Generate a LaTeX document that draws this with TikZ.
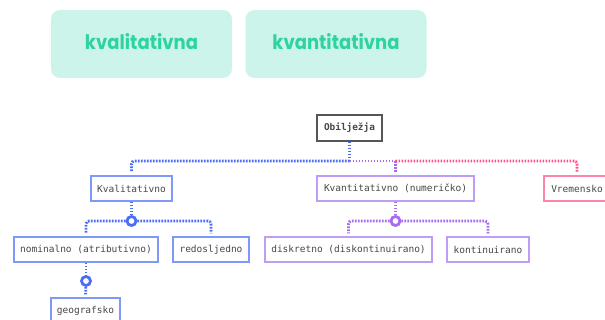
\documentclass[tikz,border=0pt]{standalone}
\usepackage{fontspec}
\usepackage{xcolor}
\usepackage{tikz}
\setmonofont{DejaVu Sans Mono}
\newfontfamily\tagfont[FakeStretch=0.9]{Poppins}
\definecolor{mintfill}{RGB}{204, 244, 234}
\definecolor{minttext}{RGB}{47, 211, 160}
\definecolor{qualblue}{RGB}{74, 108, 247}
\definecolor{qualedge}{RGB}{125, 153, 250}
\definecolor{quantviolet}{RGB}{166, 108, 240}
\definecolor{quantedge}{RGB}{192, 157, 245}
\definecolor{timepink}{RGB}{255, 77, 136}
\definecolor{timeedge}{RGB}{255, 133, 168}
\definecolor{rootgray}{RGB}{85, 85, 85}
\definecolor{labelgray}{RGB}{70, 70, 70}

\begin{document}
\begin{tikzpicture}[
    x=1pt, y=-1pt,
    tag/.style={rectangle, rounded corners=9pt, fill=mintfill, minimum width=181pt, minimum height=68pt, text depth=5pt, text=minttext, font=\tagfont\bfseries\fontsize{20}{24}\selectfont},
    root/.style={rectangle, draw=rootgray, line width=1.3pt, minimum width=65pt, minimum height=26pt, text=labelgray, font=\ttfamily\bfseries\fontsize{9.4}{11}\selectfont},
    qual/.style={rectangle, draw=qualedge, line width=1.3pt, minimum height=25pt, text=labelgray, font=\ttfamily\fontsize{9.5}{11}\selectfont},
    quant/.style={qual, draw=quantedge},
    timebox/.style={qual, draw=timeedge},
    dots/.style={line width=2.8pt, dash pattern=on 1.7pt off 1.3pt},
    blueline/.style={dots, draw=qualblue},
    violetline/.style={dots, draw=quantviolet},
    pinkline/.style={dots, draw=timepink},
    knot/.style={circle, draw, fill=white, line width=2.8pt, minimum size=9pt, inner sep=0pt},
    gap/.style={shorten >=3pt}
]
    \useasboundingbox (0,0) rectangle (605,320);

    % Tags
    \node[tag] (tag_qual) at (141.5, 44) {kvalitativna};
    \node[tag] (tag_quant) at (336, 44) {kvantitativna};

    % Root and first level
    \node[root] (obilj) at (349.5, 128) {Obilježja};
    \node[qual, minimum width=81pt] (kvalit) at (131.5, 188.5) {Kvalitativno};
    \node[quant, minimum width=157pt] (kvantit) at (395.5, 188.5) {Kvantitativno (numeričko)};
    \node[timebox, minimum width=66pt] (vrem) at (577, 188.5) {Vremensko};

    % Second level
    \node[qual, minimum width=144pt] (nomin) at (86, 249.5) {nominalno (atributivno)};
    \node[qual, minimum width=76pt] (redos) at (211, 249.5) {redosljedno};
    \node[quant, minimum width=167pt] (diskr) at (348.5, 249.5) {diskretno (diskontinuirano)};
    \node[quant, minimum width=82pt] (kontin) at (488, 249.5) {kontinuirano};
    \node[qual, minimum width=69pt] (geogr) at (85.5, 310.5) {geografsko};

    % Bus
    \coordinate (bus) at (349.5, 161);
    \draw[blueline] (obilj.south) -- (bus);
    \draw[blueline, rounded corners=3pt, gap] (bus) -| (kvalit.north);
    \draw[violetline] (bus) -- (bus -| kvantit.north);
    \draw[violetline, gap] (bus -| kvantit.north) -- (kvantit.north);
    \draw[pinkline, rounded corners=3pt, gap] (bus -| kvantit.north) -| (vrem.north);

    % Qualitative branch
    \node[knot, draw=qualblue] (kn_qual) at (131.5, 221) {};
    \draw[blueline] (kvalit.south) -- (kn_qual);
    \draw[blueline, rounded corners=3pt, gap] (kn_qual) -| (nomin.north);
    \draw[blueline, rounded corners=3pt, gap] (kn_qual) -| (redos.north);
    \node[knot, draw=qualblue] (kn_nomin) at (86, 281) {};
    \draw[blueline] (nomin.south) -- (kn_nomin);
    \draw[blueline, gap] (kn_nomin) -- (geogr.north);

    % Quantitative branch
    \node[knot, draw=quantviolet] (kn_quant) at (395.5, 221) {};
    \draw[violetline] (kvantit.south) -- (kn_quant);
    \draw[violetline, rounded corners=3pt, gap] (kn_quant) -| (diskr.north);
    \draw[violetline, rounded corners=3pt, gap] (kn_quant) -| (kontin.north);

\end{tikzpicture}
\end{document}
